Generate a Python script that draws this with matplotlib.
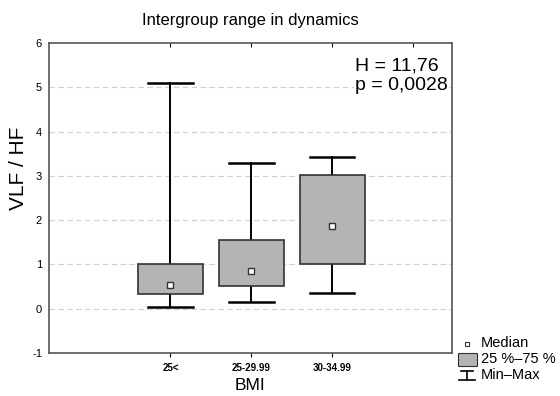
import matplotlib
matplotlib.use("Agg")
import matplotlib.pyplot as plt
from matplotlib.patches import Rectangle
from matplotlib.lines import Line2D

plt.rcParams["font.family"] = ["Liberation Sans", "DejaVu Sans"]
plt.rcParams["axes.unicode_minus"] = False

categories = ["25<", "25-29,99", "30-34,99"]
tick_labels = ["25<", "25-29.99", "30-34.99"]
mins = [0.04, 0.16, 0.36]
q1s = [0.33, 0.52, 1.00]
medians = [0.53, 0.85, 1.86]
q3s = [1.00, 1.55, 3.02]
maxs = [5.10, 3.30, 3.42]

fig = plt.figure(figsize=(5.6, 3.96), dpi=100)
ax = fig.add_axes([49/560, 1-353/396, (452-49)/560, (353-43)/396])

pos = [1, 2, 3]
bw = 0.8
cw = 0.55
for x, lo, a, m, b, hi in zip(pos, mins, q1s, medians, q3s, maxs):
    ax.plot([x, x], [lo, a], color="black", lw=1.4, zorder=2)
    ax.plot([x, x], [b, hi], color="black", lw=1.4, zorder=2)
    ax.plot([x - cw/2, x + cw/2], [lo, lo], color="black", lw=1.8, zorder=2)
    ax.plot([x - cw/2, x + cw/2], [hi, hi], color="black", lw=1.8, zorder=2)
    ax.add_patch(Rectangle((x - bw/2, a), bw, b - a, facecolor="#b4b4b4",
                           edgecolor="#333333", lw=1.2, zorder=3))
    ax.plot([x], [m], marker="s", ms=4, mfc="white", mec="#333333", mew=1, zorder=4)

ax.set_xlim(-0.5, 4.48)
ax.set_ylim(-1, 6)
ax.set_yticks(range(-1, 7))
ax.set_xticks(pos)
ax.set_xticklabels(tick_labels, fontsize=7, fontweight="bold")
ax.tick_params(axis="y", labelsize=8, direction="out", length=0, pad=5)
ax.tick_params(axis="x", direction="out", length=3, pad=4)
sec = ax.secondary_xaxis("top")
sec.set_xticks([1, 2, 3, 4])
sec.set_xticklabels([])
sec.tick_params(direction="in", length=3)
for s in sec.spines.values():
    s.set_visible(False)
for y in range(0, 6):
    ax.axhline(y, color="#d0d0d0", lw=0.8, ls=(0, (5, 3)), zorder=1)
for s in ax.spines.values():
    s.set_color("#555555")
    s.set_linewidth(1.2)

fig.text(18.5/560, 1-168/396, "VLF / HF", fontsize=15, rotation=90,
         ha="center", va="center")
fig.text(250/560, 1-386/396, "BMI", fontsize=12.5, ha="center", va="center")
fig.text(250/560, 1-20/396, "Intergroup range in dynamics", fontsize=12,
         ha="center", va="center")
fig.text(355/560, 1-66/396, "H = 11,76", fontsize=14, ha="left", va="center")
fig.text(355/560, 1-86/396, "p = 0,0028", fontsize=14, ha="left", va="center",
         bbox=dict(facecolor="white", edgecolor="none", pad=0.5))

# legend outside
fig.add_artist(Line2D([467/560], [1-344/396], marker="s", ms=3.5, mfc="white",
                      mec="#333333", mew=0.8, transform=fig.transFigure))
fig.patches.append(Rectangle((458/560, 1-366/396), 19/560, 13/396,
                             facecolor="#b4b4b4", edgecolor="#333333", lw=0.8,
                             transform=fig.transFigure))
fig.add_artist(Line2D([461/560, 473/560], [1-371/396]*2, color="black", lw=1.2,
                      transform=fig.transFigure))
fig.add_artist(Line2D([467/560, 467/560], [1-371/396, 1-380/396], color="black",
                      lw=1.2, transform=fig.transFigure))
fig.add_artist(Line2D([459/560, 475/560], [1-380/396]*2, color="black", lw=1.2,
                      transform=fig.transFigure))
for yy, t in [(343, "Median"), (359, "25 %\u201375 %"), (375, "Min\u2013Max")]:
    fig.text(481/560, 1-yy/396, t, fontsize=10.5, ha="left", va="center")

fig.savefig("out.png", dpi=100)
